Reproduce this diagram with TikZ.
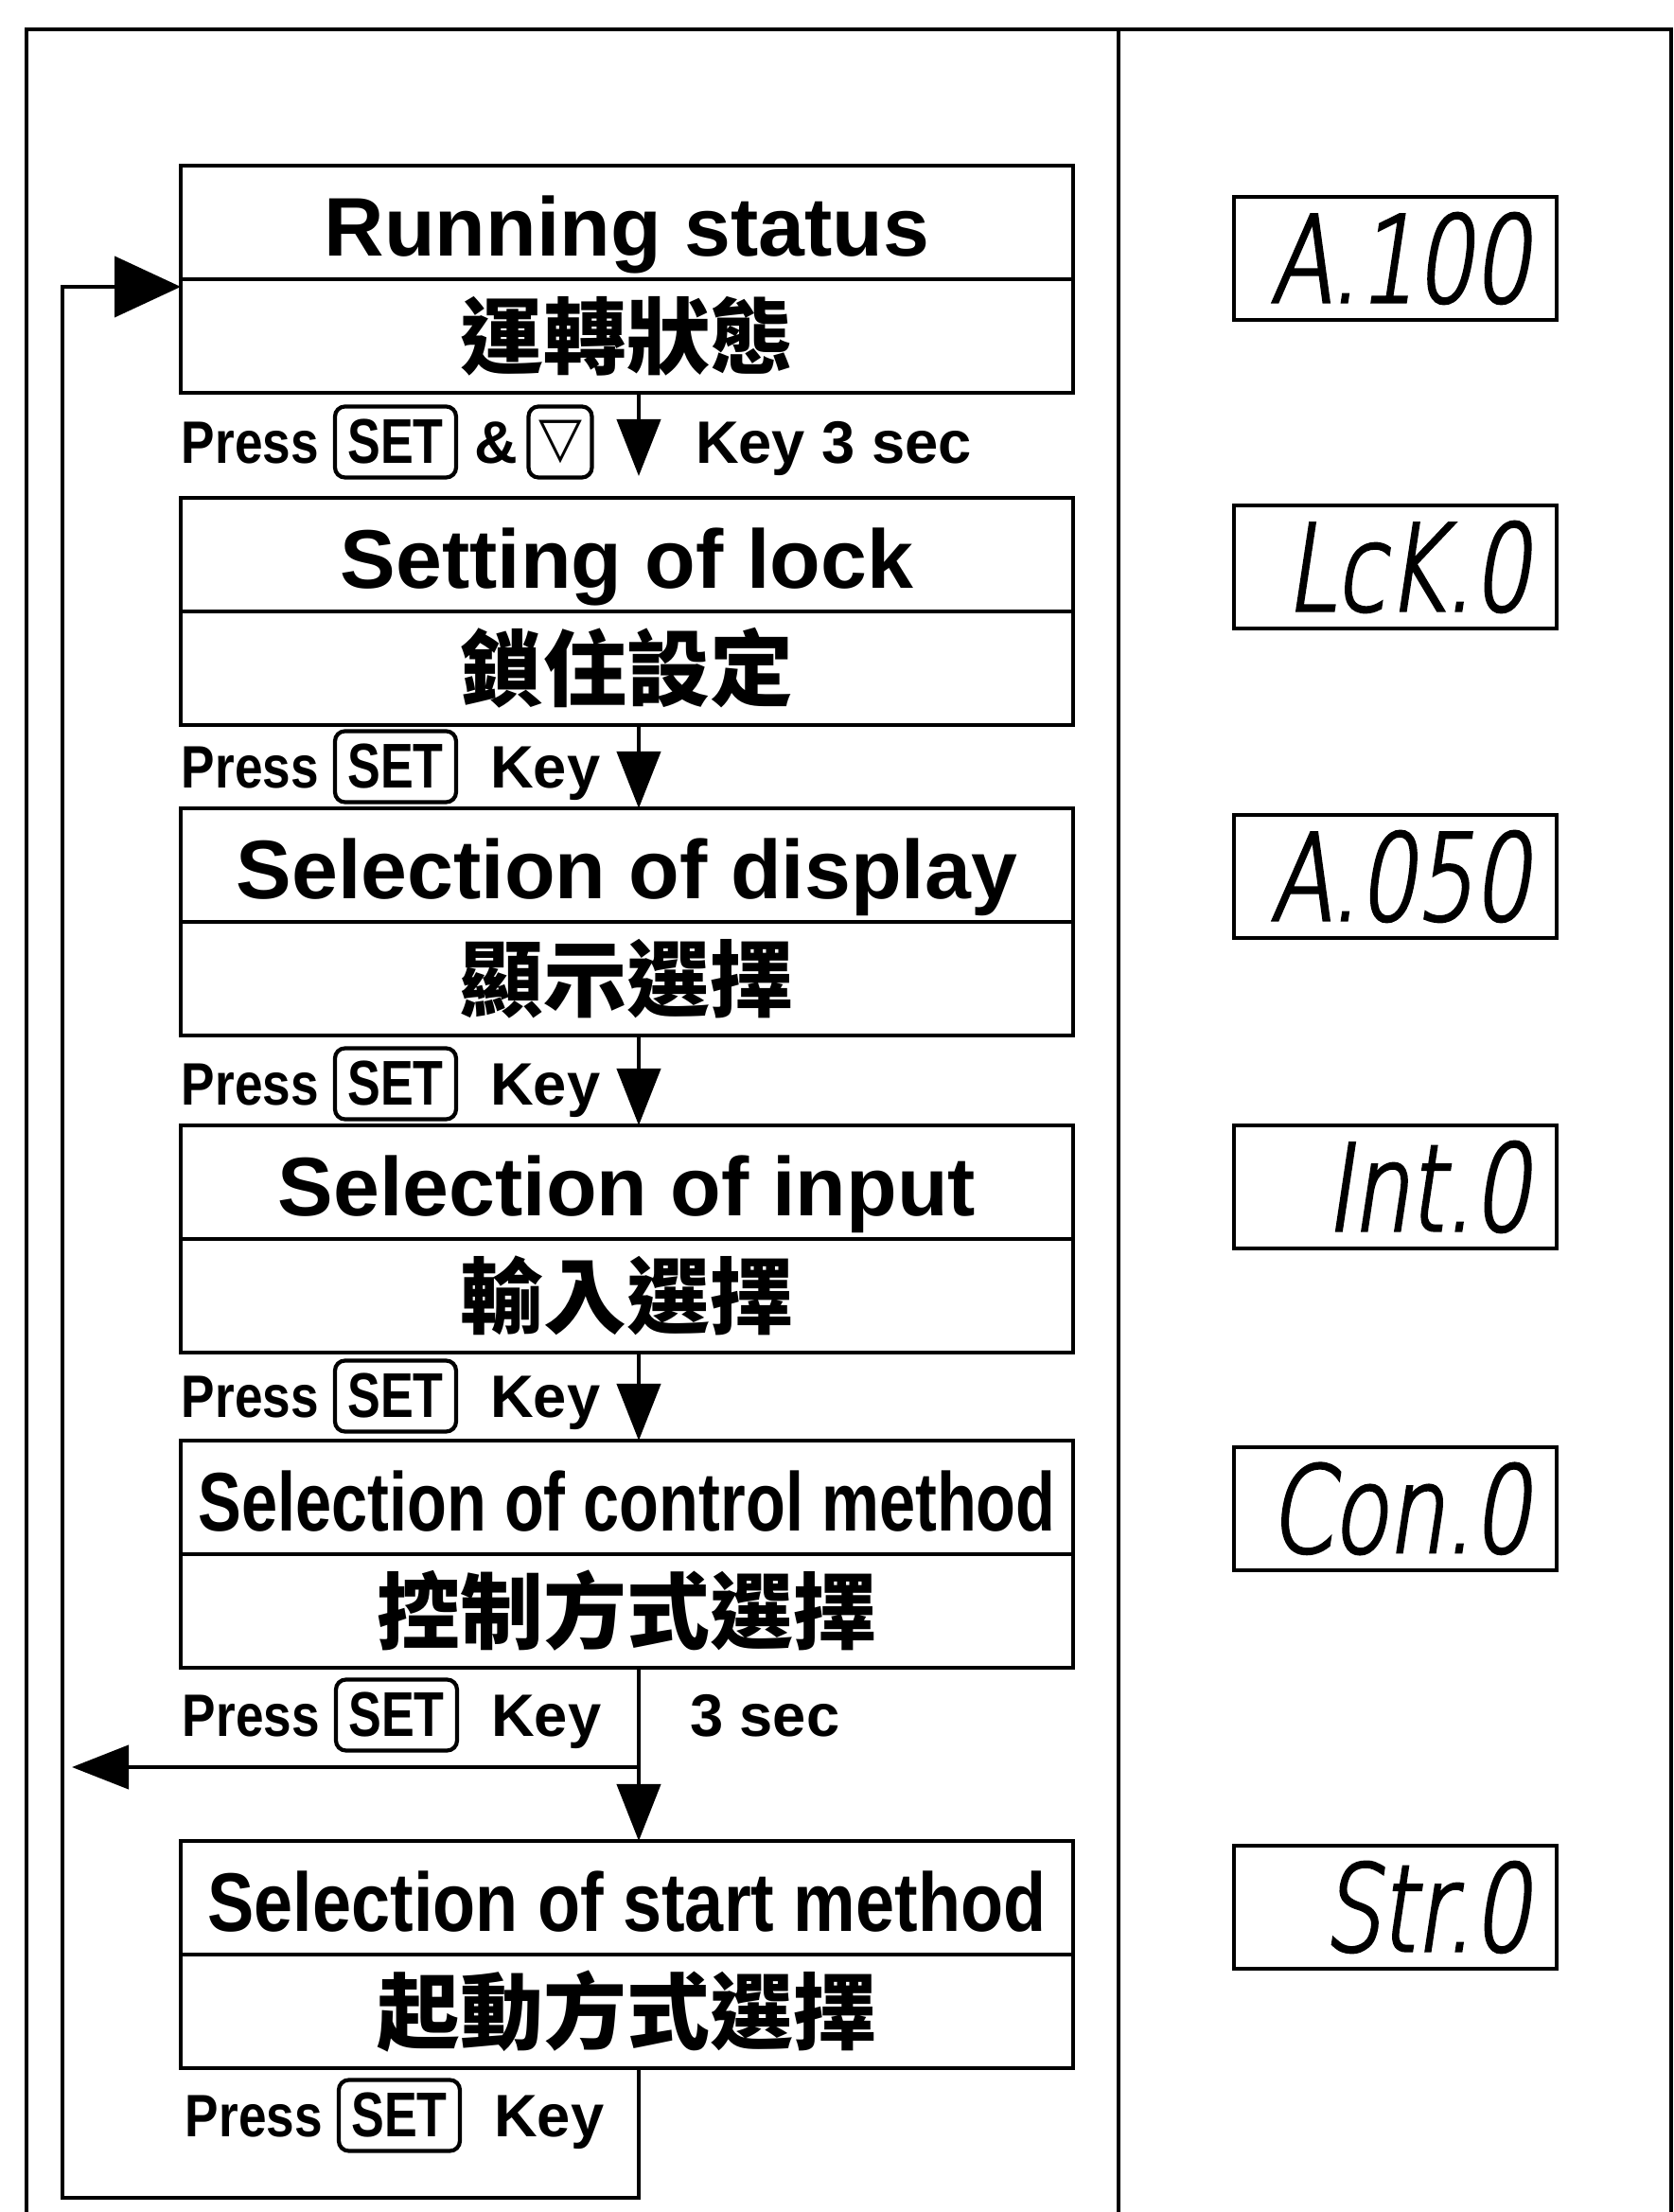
\documentclass[tikz,border=0pt]{standalone}
\usepackage{fontspec}
\setmainfont{Liberation Sans}
\newfontfamily\narrowsans{Liberation Sans}[FakeStretch=0.78]
\newfontfamily\semisans{Liberation Sans}[FakeStretch=0.84]
\newfontfamily\cjk{Noto Sans CJK TC}
\newfontfamily\ledfont{DejaVuSans-ExtraLight}[Extension=.ttf, FakeSlant=0.15, FakeStretch=0.75, FakeBold=2.5]
\newfontfamily\symfont{DejaVu Sans}
\usetikzlibrary{arrows.meta, positioning}

\begin{document}
\begin{tikzpicture}[>={Triangle[length=6mm, width=4.6mm]}, line width=1.2pt,
  halfbox/.style={draw, minimum width=9.43cm, minimum height=1.2cm, inner sep=0pt, outer sep=0pt},
  enbox/.style={halfbox, text height=20pt, text depth=0pt,
    font=\fontsize{25}{30}\selectfont\bfseries},
  zhbox/.style={halfbox, font=\fontsize{25}{30}\selectfont\cjk\bfseries},
  keycap/.style={draw, rounded corners=3pt, minimum width=1.28cm, minimum height=0.75cm, inner sep=0pt,
    font=\fontsize{19}{22}\selectfont\narrowsans\bfseries},
  keytext/.style={inner sep=0pt, text height=13pt, text depth=0pt,
    font=\fontsize{18}{21}\selectfont\bfseries},
  presstext/.style={keytext, font=\fontsize{18}{21}\selectfont\semisans\bfseries},
  readout/.style={draw, minimum width=3.41cm, minimum height=1.3cm, inner sep=0pt,
    text width=2.85cm, align=right, font=\fontsize{36}{40}\selectfont\ledfont}]

% Page frame
\useasboundingbox (0,0) rectangle (17.69,23.37);
\draw[line width=1.4pt] (0.28,0) |- (17.66,23.06) -- (17.66,0);
\draw (11.82,23.06) -- (11.82,0);

% ========== Flow boxes ==========
\node[enbox] (run) at (6.625,21.02) {Running status};
\node[zhbox, below=0pt of run] (runzh) {運轉狀態};

\node[enbox] (lock) at (6.625,17.51) {Setting of lock};
\node[zhbox, below=0pt of lock] (lockzh) {鎖住設定};

\node[enbox] (disp) at (6.625,14.23) {Selection of display};
\node[zhbox, below=0pt of disp] (dispzh) {顯示選擇};

\node[enbox] (input) at (6.625,10.88) {Selection of input};
\node[zhbox, below=0pt of input] (inputzh) {輸入選擇};

\node[enbox] (ctl) at (6.625,7.55) {\narrowsans Selection of control method};
\node[zhbox, below=0pt of ctl] (ctlzh) {控制方式選擇};

\node[enbox] (start) at (6.625,3.32) {\semisans Selection of start method};
\node[zhbox, below=0pt of start] (startzh) {起動方式選擇};

% ========== Key labels ==========
\node[keycap] (set1) at (4.18,18.70) {SET};
\node[presstext, left=1.3mm of set1] (press1) {Press};
\node[keytext, right=1.5mm of set1] (amp1) {\&};
\node[keycap, minimum width=0.67cm, font=\fontsize{17}{20}\selectfont\symfont] (dn1) at (5.92,18.70) {▽};
\node[keytext, anchor=west] (key1) at (7.33,18.70) {Key 3 sec};

\node[keycap] (set2) at (4.18,15.27) {SET};
\node[presstext, left=1.3mm of set2] (press2) {Press};
\node[keytext, right=3.2mm of set2] (key2) {Key};

\node[keycap] (set3) at (4.18,11.92) {SET};
\node[presstext, left=1.3mm of set3] (press3) {Press};
\node[keytext, right=3.2mm of set3] (key3) {Key};

\node[keycap] (set4) at (4.18,8.62) {SET};
\node[presstext, left=1.3mm of set4] (press4) {Press};
\node[keytext, right=3.2mm of set4] (key4) {Key};

\node[keycap] (set5) at (4.19,5.25) {SET};
\node[presstext, left=1.3mm of set5] (press5) {Press};
\node[keytext, right=3.2mm of set5] (key5) {Key};
\node[keytext, anchor=west] (sec5) at (7.27,5.25) {3 sec};

\node[keycap] (set6) at (4.22,1.02) {SET};
\node[presstext, left=1.3mm of set6] (press6) {Press};
\node[keytext, right=3.2mm of set6] (key6) {Key};

% ========== Connectors ==========
\draw[->, shorten >=2.3mm] ([xshift=1.25mm]runzh.south) -- ([xshift=1.25mm]lock.north);
\draw[->] ([xshift=1.25mm]lockzh.south) -- ([xshift=1.25mm]disp.north);
\draw[->] ([xshift=1.25mm]dispzh.south) -- ([xshift=1.25mm]input.north);
\draw[->] ([xshift=1.25mm]inputzh.south) -- ([xshift=1.25mm]ctl.north);
\draw[->] ([xshift=1.25mm]ctlzh.south) -- ([xshift=1.25mm]start.north);

% back to running status
\coordinate (branch) at (6.75,4.70);
\coordinate (railhit) at (0.76,4.70);
\coordinate (railbottom) at (0.66,0.15);
\draw[->] (branch) -- (railhit);
\draw[-{Triangle[length=7mm, width=6.4mm]}]
  ([xshift=1.25mm]startzh.south) |- (railbottom) |- ([yshift=-0.8mm]runzh.north west);

% ========== Display readouts ==========
\node[readout] (ledrun) at (14.745,20.64) {A.100};
\node[readout] (ledlock) at (14.745,17.38) {LcK.0};
\node[readout] (leddisp) at (14.745,14.11) {A.050};
\node[readout] (ledinput) at (14.745,10.83) {Int.0};
\node[readout] (ledctl) at (14.745,7.43) {Con.0};
\node[readout] (ledstart) at (14.745,3.22) {Str.0};

\end{tikzpicture}
\end{document}
